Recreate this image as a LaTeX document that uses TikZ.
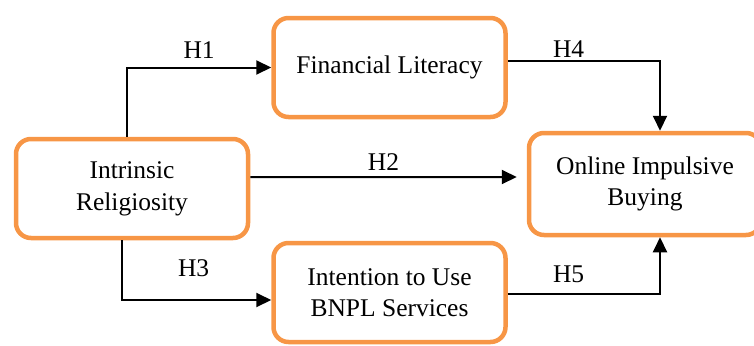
\documentclass[tikz,border=0pt]{standalone}
\usepackage{fontspec}
\setmainfont{Liberation Serif}
\usetikzlibrary{arrows.meta, positioning, calc}
\definecolor{boxorange}{HTML}{F79646}
\tikzset{%
    boxsty/.style={
        rounded corners=0.3cm,
        draw=boxorange,
        line width=0.09cm,
        align=center,
        inner sep=0pt,
        minimum height=1.98cm,
        minimum width=4.64cm,
        font=\fontsize{14.5}{18}\selectfont,
    },
    arrsty/.style={
        draw,
        line width=0.04cm,
        -{Triangle[length=0.3cm,width=0.28cm]},
    },
    hypsty/.style={
        inner sep=0pt,
        font=\fontsize{14.5}{18}\selectfont,
    },
}
\begin{document}
\begin{tikzpicture}[]

\useasboundingbox (0,0) rectangle (15.08,-6.9);

% construct nodes
\node (ir) [boxsty] at (2.64,-3.77) {Intrinsic\\Religiosity};
\node (fl) [boxsty] at (7.79,-1.35) {Financial Literacy};
\node (iu) [boxsty] at (7.79,-5.85) {Intention to Use\\BNPL Services};
\node (oib) [boxsty,minimum height=2.04cm] at (12.9,-3.68) {Online Impulsive\\Buying};

% hypothesis paths
\draw [arrsty] ([xshift=-0.1cm]ir.north) |- (fl.west)
      node [hypsty,pos=.75,above=0.16cm] {H1};
\draw [arrsty] ([yshift=0.23cm]ir.east) -- ([xshift=-0.2cm,yshift=0.14cm]oib.west)
      node [hypsty,midway,above=0.12cm] {H2};
\draw [arrsty] ([xshift=-0.2cm]ir.south) |- ([yshift=-0.15cm]iu.west)
      node [hypsty,pos=.74,above=0.45cm] {H3};
\draw [arrsty] ([yshift=0.13cm]fl.east) -| ([xshift=0.3cm]oib.north)
      node [hypsty,pos=.2,above=0.05cm] {H4};
\draw [arrsty] ([yshift=-0.03cm]iu.east) -| ([xshift=0.3cm]oib.south)
      node [hypsty,pos=.2,above=0.2cm] {H5};

\end{tikzpicture}
\end{document}
